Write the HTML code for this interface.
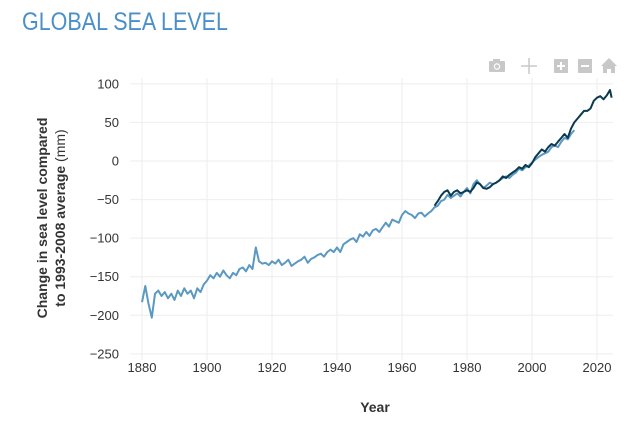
<!DOCTYPE html>
<html><head><meta charset="utf-8"><style>
body{margin:0;background:#fff;width:642px;height:431px;overflow:hidden;font-family:"Liberation Sans",sans-serif}
#title{position:absolute;left:22px;top:8px;font-size:25px;color:#4a8fc9;transform:scaleX(0.86);transform-origin:0 0;white-space:nowrap}
svg{position:absolute;left:0;top:0}
</style></head><body>
<div id="title">GLOBAL SEA LEVEL</div>
<svg id="chart" width="642" height="431">
<g id="toolbar" fill="#c8c8c8">
  <g><rect x="489" y="61" width="16" height="11" rx="1"/><rect x="493" y="59" width="7" height="3"/><circle cx="497" cy="66.5" r="3.2" fill="#fff"/><circle cx="497" cy="66.5" r="2" fill="#c8c8c8"/></g>
  <g stroke="#c8c8c8" stroke-width="1.5"><line x1="521" y1="66" x2="537" y2="66"/><line x1="529" y1="58" x2="529" y2="74"/></g>
  <g><rect x="554" y="59" width="14" height="14"/><rect x="557" y="65" width="8" height="2" fill="#fff"/><rect x="560" y="62" width="2" height="8" fill="#fff"/></g>
  <g><rect x="578" y="59" width="14" height="14"/><rect x="581" y="65" width="8" height="2" fill="#fff"/></g>
  <g><polygon points="601,66 609,58 617,66 615,66 615,73 611,73 611,69 607,69 607,73 603,73 603,66"/></g>
</g>
<g id="grid"></g><g id="series"></g><g id="axes"></g>
<text x="375" y="412" text-anchor="middle" font-size="14" font-weight="bold" fill="#333">Year</text>
<g transform="translate(60,218) rotate(-90)">
<text x="0" y="-13" text-anchor="middle" font-size="14" font-weight="bold" fill="#333">Change in sea level compared</text>
<text x="0" y="5" text-anchor="middle" font-size="14" fill="#333"><tspan font-weight="bold">to 1993-2008 average</tspan> (mm)</text>
</g>
</svg>
<script>
const xTicks=[1880,1900,1920,1940,1960,1980,2000,2020];
const yTicks=[100,50,0,-50,-100,-150,-200,-250];
const histYears=[];for(let y=1880;y<=2013;y++)histYears.push(y);
const histValues=[-183,-162,-185,-203,-172,-168,-175,-170,-178,-172,-180,-168,-175,-165,-172,-168,-178,-165,-170,-160,-155,-148,-152,-145,-150,-142,-148,-152,-145,-148,-140,-138,-143,-135,-140,-112,-130,-133,-132,-135,-130,-133,-128,-135,-132,-128,-136,-133,-130,-128,-124,-132,-127,-125,-122,-120,-124,-118,-115,-118,-112,-118,-108,-105,-102,-100,-105,-95,-98,-92,-97,-90,-88,-92,-86,-80,-85,-76,-78,-80,-70,-65,-68,-70,-74,-68,-67,-72,-68,-65,-60,-58,-52,-50,-44,-48,-45,-42,-46,-40,-35,-42,-30,-25,-30,-35,-32,-28,-30,-28,-25,-22,-20,-22,-18,-15,-10,-12,-8,-6,-2,2,5,8,10,12,18,20,18,25,30,28,35,40];
const recentYears=[];for(let y=1970;y<=2024;y++)recentYears.push(y);recentYears.push(2024.5);
const recentValues=[-58,-52,-45,-40,-38,-45,-40,-38,-42,-40,-38,-40,-35,-28,-30,-35,-36,-34,-30,-28,-25,-20,-22,-18,-15,-12,-8,-10,-5,-8,-3,5,10,15,12,18,22,20,25,30,35,30,42,50,55,60,65,65,68,78,82,84,80,85,92,82];
const X=y=>142+(y-1880)*3.25;
const Y=v=>161-v*0.7714;
const NS='http://www.w3.org/2000/svg';
function mk(t,a,p){const e=document.createElementNS(NS,t);for(const k in a)e.setAttribute(k,a[k]);p.appendChild(e);return e;}
const grid=document.getElementById('grid'),axes=document.getElementById('axes'),ser=document.getElementById('series');
xTicks.forEach(t=>{const l=mk('line',{x1:X(t),x2:X(t),y1:78,y2:360,stroke:'#eee','stroke-width':1},grid);


const tx=mk('text',{x:X(t),y:372,'text-anchor':'middle','font-size':13,fill:'#333'},axes);tx.textContent=t;

});
yTicks.forEach(t=>{const l=mk('line',{x1:130,x2:613,y1:Y(t),y2:Y(t),stroke:'#eee','stroke-width':1},grid);


const tx=mk('text',{x:119,y:Y(t)+4.5,'text-anchor':'end','font-size':13,fill:'#333'},axes);tx.textContent=String(t).replace('-','\u2212');

});
function line(ys,vs,c,name){const d=ys.map((y,i)=>(i?'L':'M')+X(y).toFixed(1)+','+Y(vs[i]).toFixed(1)).join('');
const p=mk('path',{d:d,fill:'none',stroke:c,'stroke-width':2,'stroke-linejoin':'round'},ser);

}
line(histYears,histValues,'#5b98c2','tide-gauge-series');
line(recentYears,recentValues,'#0b3a4f','satellite-series');
</script>
</body></html>
